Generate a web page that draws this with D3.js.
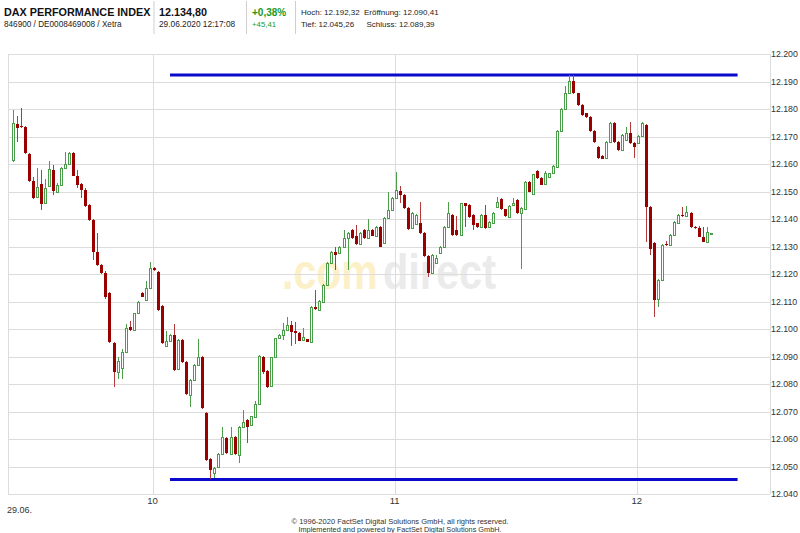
<!DOCTYPE html>
<html><head><meta charset="utf-8">
<script src="https://cdn.jsdelivr.net/npm/d3@7"></script>
<style>body{margin:0;background:#fff}svg{display:block}</style>
</head><body>
<svg id="c" width="800" height="533"></svg>
<script>
// ---- data ----
const startTime = "2020-06-29T09:25:00";
const opens = [12161.5,12174.4,12173.9,12173.6,12163.6,12153.8,12148.1,12152.6,12145.7,12152.1,
12157.8,12149.9,12152.5,12158.5,12159.9,12163.9,12155.8,12152.6,12150.5,12145.0,
12139.6,12128.1,12123.3,12120.3,12113.0,12094.8,12084.5,12086.0,12091.7,12100.8,
12099.6,12105.7,12113.0,12110.5,12115.0,12122.3,12120.9,12108.5,12094.0,12095.6,
12097.8,12085.5,12096.0,12088.1,12076.0,12081.5,12086.9,12090.0,12069.6,12052.9,
12047.5,12049.9,12054.5,12060.3,12054.5,12060.9,12054.2,12064.5,12066.9,12065.2,
12068.1,12072.7,12090.0,12084.8,12079.3,12089.7,12096.6,12097.8,12099.6,12101.5,
12099.4,12098.7,12096.0,12096.2,12095.4,12108.1,12106.9,12110.0,12116.0,12124.1,
12128.1,12127.5,12130.0,12133.0,12136.0,12134.0,12131.0,12136.0,12133.0,12136.0,
12134.0,12137.2,12131.2,12140.3,12143.3,12147.5,12150.3,12148.7,12143.9,12136.6,
12138.2,12138.4,12135.0,12126.5,12120.5,12124.0,12127.5,12130.0,12137.2,12141.5,
12136.0,12134.2,12145.7,12145.1,12141.5,12138.4,12137.2,12141.5,12137.2,12138.4,
12144.5,12147.2,12143.5,12140.8,12145.1,12146.9,12142.1,12143.5,12153.6,12149.0,
12157.5,12155.0,12152.7,12155.4,12156.6,12159.0,12172.1,12179.9,12185.7,12190.3,
12185.7,12181.5,12178.4,12177.0,12172.1,12166.1,12163.0,12162.1,12168.1,12175.0,
12168.1,12165.1,12168.7,12171.4,12167.7,12167.5,12170.2,12174.2,12144.5,12131.4,
12110.9,12118.0,12131.0,12130.5,12134.2,12138.4,12141.6,12141.0,12142.3,12137.2,
12136.6,12133.6,12131.8,12134.8];
const highs = [12179.6,12177.6,12180.5,12174.0,12163.9,12155.4,12158.7,12157.8,12154.5,12161.1,
12159.6,12153.0,12159.0,12164.3,12164.5,12164.5,12157.8,12153.0,12151.2,12145.5,
12140.0,12134.8,12123.6,12121.0,12113.5,12095.2,12090.0,12092.6,12102.0,12103.0,
12106.0,12110.2,12113.3,12117.5,12124.5,12122.6,12121.2,12108.8,12099.3,12098.1,
12101.7,12096.3,12096.3,12088.4,12082.0,12087.2,12096.3,12090.3,12069.9,12053.2,
12050.0,12054.8,12064.3,12060.6,12064.5,12061.2,12064.8,12070.5,12067.2,12068.5,
12074.0,12090.5,12090.3,12085.1,12090.0,12096.9,12098.1,12102.2,12104.5,12103.0,
12102.5,12099.0,12100.5,12096.5,12108.4,12114.2,12110.6,12116.3,12124.4,12128.4,
12130.0,12130.3,12136.0,12135.3,12136.3,12138.0,12135.3,12136.3,12140.0,12136.3,
12137.3,12137.5,12140.6,12150.0,12148.0,12157.2,12152.0,12149.0,12144.2,12142.4,
12141.8,12146.3,12135.3,12126.8,12127.2,12127.0,12130.3,12137.5,12146.3,12141.8,
12141.0,12146.0,12146.0,12145.4,12141.8,12138.7,12141.8,12145.0,12139.3,12142.4,
12148.0,12147.5,12143.8,12145.0,12147.5,12147.2,12144.2,12153.9,12153.9,12156.5,
12157.8,12155.4,12157.5,12156.9,12159.6,12172.4,12180.2,12188.5,12192.3,12192.3,
12186.0,12181.8,12178.7,12177.3,12172.4,12166.4,12163.3,12168.4,12175.3,12175.3,
12168.4,12170.8,12173.6,12175.4,12168.0,12170.5,12175.1,12174.5,12144.8,12131.7,
12118.3,12130.8,12132.0,12134.5,12139.3,12141.8,12144.5,12144.7,12142.6,12137.5,
12137.5,12137.0,12137.0,12135.0];
const lows = [12160.8,12168.1,12173.0,12163.5,12153.5,12147.2,12147.8,12143.3,12145.4,12151.8,
12148.7,12149.6,12152.2,12158.2,12159.6,12155.5,12151.2,12147.5,12144.5,12139.3,
12125.1,12123.0,12120.0,12110.9,12094.8,12079.0,12082.0,12082.0,12091.5,12099.3,
12099.3,12105.4,12111.5,12110.2,12114.7,12121.2,12106.6,12094.5,12093.7,12095.3,
12084.8,12085.2,12087.8,12076.0,12071.8,12081.2,12086.6,12070.9,12052.1,12045.3,
12046.0,12049.6,12054.2,12054.5,12054.2,12054.2,12051.2,12064.2,12058.7,12064.9,
12067.8,12072.4,12083.5,12078.7,12079.0,12089.4,12096.3,12096.0,12099.3,12094.0,
12094.5,12095.5,12095.7,12095.1,12095.1,12106.9,12106.6,12109.7,12115.7,12123.8,
12121.5,12127.2,12129.7,12121.5,12132.7,12130.7,12130.7,12132.7,12132.7,12133.7,
12133.7,12129.7,12130.9,12140.0,12143.0,12147.2,12146.0,12143.6,12136.0,12136.3,
12137.9,12134.7,12126.2,12119.0,12120.2,12123.7,12127.2,12129.7,12136.9,12133.9,
12133.9,12133.9,12137.0,12140.5,12136.0,12136.7,12136.9,12136.3,12136.9,12138.1,
12144.2,12143.2,12140.7,12140.5,12144.8,12141.8,12122.0,12143.2,12149.7,12148.7,
12154.5,12152.2,12152.4,12155.1,12156.3,12158.7,12171.8,12179.6,12185.4,12185.4,
12181.2,12177.5,12176.7,12171.8,12167.8,12161.8,12161.7,12161.8,12167.8,12167.8,
12164.8,12164.8,12168.4,12167.4,12162.1,12167.2,12169.9,12131.8,12127.0,12104.5,
12108.0,12117.7,12130.2,12130.2,12133.9,12138.1,12140.7,12140.7,12136.9,12136.5,
12133.3,12131.5,12131.5,12134.6];
const closes = [12174.8,12173.0,12173.3,12163.9,12153.8,12147.5,12151.7,12145.4,12151.2,12158.2,
12150.2,12152.5,12158.7,12159.9,12163.9,12155.8,12152.4,12150.5,12144.8,12139.6,
12128.1,12123.3,12120.3,12111.8,12095.2,12084.5,12088.5,12091.7,12100.3,12099.6,
12105.7,12109.9,12111.8,12115.0,12122.1,12121.5,12106.9,12094.8,12095.6,12097.8,
12085.1,12096.0,12088.1,12076.4,12081.5,12086.9,12090.0,12071.2,12052.4,12048.7,
12049.5,12054.5,12060.6,12054.8,12060.9,12054.5,12064.5,12066.3,12064.5,12068.2,
12072.7,12090.2,12084.5,12079.0,12089.7,12096.6,12097.8,12099.6,12101.5,12099.0,
12098.4,12095.8,12097.0,12095.4,12108.1,12107.2,12110.3,12116.0,12124.1,12128.1,
12127.0,12130.0,12133.0,12135.0,12133.0,12131.0,12135.0,12133.0,12136.0,12134.0,
12137.0,12130.0,12140.3,12143.3,12147.7,12150.5,12148.7,12143.9,12136.3,12142.1,
12141.5,12135.0,12126.5,12120.3,12126.9,12126.0,12130.0,12137.2,12142.1,12134.2,
12134.2,12145.7,12144.6,12140.8,12137.8,12137.0,12141.5,12136.6,12139.0,12142.1,
12146.3,12143.5,12141.0,12144.7,12146.0,12142.1,12143.9,12153.6,12150.0,12156.2,
12154.8,12152.5,12156.6,12156.6,12159.3,12172.1,12179.9,12185.7,12190.3,12185.7,
12181.5,12177.8,12177.0,12172.1,12168.1,12162.1,12162.0,12168.1,12175.0,12168.1,
12165.1,12170.5,12171.4,12167.7,12166.3,12170.2,12174.8,12144.5,12129.0,12110.5,
12118.0,12130.5,12130.5,12134.2,12139.0,12141.5,12141.0,12142.5,12137.2,12136.8,
12133.6,12131.8,12135.4,12134.8];
const yTicks = [12040,12050,12060,12070,12080,12090,12100,12110,12120,12130,12140,12150,12160,12170,12180,12190,12200];
const xTickTimes = ["2020-06-29T10:00:00","2020-06-29T11:00:00","2020-06-29T12:00:00"];
const xTickLabels = ["10","11","12"];
const levelValues = [12192.32, 12045.26];
const levelStart = "2020-06-29T10:04:20";
const levelEnd = "2020-06-29T12:25:00";

// ---- chart ----
const svg = d3.select("#c");
const L = 8, R = 770, T = 54, B = 494;
const x = d3.scaleTime()
  .domain([new Date("2020-06-29T09:24:11"), new Date("2020-06-29T12:33:02")])
  .range([L, R]);
const y = d3.scaleLinear().domain([12040, 12200]).range([B, T]);
const fmt = v => d3.format(",")(v).replace(/,/g, ".");
const FONT = "'Liberation Sans', Arial, sans-serif";

// watermark (two separate words, vertically stretched)
svg.append("text").attr("transform", "translate(282,289) scale(1,1.2)")
  .attr("font-family", FONT).attr("font-weight", "bold").attr("font-size", 41)
  .attr("fill", "#fcf0c8").text(".com");
svg.append("text").attr("transform", "translate(383,289) scale(1,1.2)")
  .attr("font-family", FONT).attr("font-weight", "bold").attr("font-size", 41.5)
  .attr("fill", "#ebebeb").text("direct");

// grid
const grid = svg.append("g").attr("stroke", "#dcdcdc").attr("stroke-width", 1).attr("shape-rendering", "crispEdges");
grid.selectAll("line.h").data(yTicks).join("line")
  .attr("x1", L).attr("x2", R).attr("y1", d => Math.round(y(d)) + 0.5).attr("y2", d => Math.round(y(d)) + 0.5);
grid.selectAll("line.v").data(xTickTimes).join("line")
  .attr("y1", T).attr("y2", B).attr("x1", d => Math.round(x(new Date(d))) + 0.5).attr("x2", d => Math.round(x(new Date(d))) + 0.5);
grid.append("line").attr("x1", L + 0.5).attr("x2", L + 0.5).attr("y1", T).attr("y2", B);
grid.append("line").attr("x1", R + 0.5).attr("x2", R + 0.5).attr("y1", T).attr("y2", B);

// y labels
svg.append("g").selectAll("text").data(yTicks).join("text")
  .attr("x", 771).attr("y", d => y(d) + 1).attr("dominant-baseline", "middle")
  .attr("font-family", FONT).attr("font-size", 8.8).attr("fill", "#333").text(fmt);

// x labels
svg.append("g").selectAll("text").data(xTickTimes).join("text")
  .attr("x", d => x(new Date(d))).attr("y", 504).attr("text-anchor", "middle")
  .attr("font-family", FONT).attr("font-size", 9.5).attr("fill", "#333")
  .text((d, i) => xTickLabels[i]);
svg.append("text").attr("x", 7).attr("y", 513).attr("font-family", FONT).attr("font-size", 9).attr("fill", "#333").text("29.06.");

// level lines
svg.append("g").selectAll("line").data(levelValues).join("line")
  .attr("x1", x(new Date(levelStart))).attr("x2", x(new Date(levelEnd)))
  .attr("y1", d => y(d)).attr("y2", d => y(d))
  .attr("stroke", "#0a0acc").attr("stroke-width", 3);

// candles
const t0 = new Date(startTime).getTime();
const candles = opens.map((o, i) => ({t: new Date(t0 + i * 60000 + 20000), o, h: highs[i], l: lows[i], c: closes[i]}));
const cg = svg.append("g").attr("shape-rendering", "crispEdges");
const cx = d => Math.round(x(d.t));
cg.selectAll("line").data(candles).join("line")
  .attr("x1", d => cx(d) + 0.5).attr("x2", d => cx(d) + 0.5)
  .attr("y1", d => y(d.h)).attr("y2", d => y(d.l))
  .attr("stroke", d => d.c >= d.o ? "#4a9e4a" : "#b23a3a");
cg.selectAll("rect").data(candles).join("rect")
  .attr("x", d => cx(d) - 1 + (d.c >= d.o ? 0.5 : 0))
  .attr("width", d => d.c >= d.o ? 2 : 3)
  .attr("y", d => y(Math.max(d.o, d.c)) + (d.c >= d.o ? 0.5 : 0))
  .attr("height", d => Math.max(1, Math.abs(y(d.o) - y(d.c))))
  .attr("fill", d => d.c >= d.o ? "#ffffff" : "#990000")
  .attr("stroke", d => d.c >= d.o ? "#4a9e4a" : "none")
  .attr("stroke-width", 1);

// header
const hd = svg.append("g").attr("font-family", FONT);
hd.append("text").attr("x", 4).attr("y", 16).attr("font-weight", "bold").attr("font-size", 10.8).attr("fill", "#111").text("DAX PERFORMANCE INDEX");
hd.append("text").attr("x", 4).attr("y", 27).attr("font-size", 8.2).attr("fill", "#222").text("846900 / DE0008469008 / Xetra");
hd.append("text").attr("x", 159).attr("y", 16).attr("font-weight", "bold").attr("font-size", 10.8).attr("fill", "#111").text("12.134,80");
hd.append("text").attr("x", 159).attr("y", 27).attr("font-size", 8.3).attr("fill", "#222").text("29.06.2020 12:17:08");
hd.append("text").attr("x", 252).attr("y", 16).attr("font-weight", "bold").attr("font-size", 10).attr("fill", "#1a9a1a").text("+0,38%");
hd.append("text").attr("x", 252).attr("y", 27).attr("font-size", 7.8).attr("fill", "#1a9a1a").text("+45,41");
hd.append("text").attr("x", 301).attr("y", 15).attr("font-size", 8).attr("fill", "#222").text("Hoch: 12.192,32");
hd.append("text").attr("x", 364).attr("y", 15).attr("font-size", 8).attr("fill", "#222").text("Eröffnung: 12.090,41");
hd.append("text").attr("x", 301).attr("y", 27).attr("font-size", 8).attr("fill", "#222").text("Tief: 12.045,26");
hd.append("text").attr("x", 366.5).attr("y", 27).attr("font-size", 8).attr("fill", "#222").text("Schluss: 12.089,39");
hd.selectAll("line").data([154, 246.5, 295.5]).join("line")
  .attr("x1", d => d).attr("x2", d => d).attr("y1", 1).attr("y2", 34)
  .attr("stroke", "#cfcfcf").attr("stroke-width", 1);

// footer
const ft = svg.append("g").attr("font-family", "'Liberation Sans Narrow', 'Arial Narrow', 'Liberation Sans', sans-serif").attr("font-size", 7.5).attr("fill", "#333").attr("text-anchor", "middle");
ft.append("text").attr("x", 400).attr("y", 524).attr("textLength", 217).attr("lengthAdjust", "spacingAndGlyphs").text("© 1996-2020 FactSet Digital Solutions GmbH, all rights reserved.");
ft.append("text").attr("x", 400).attr("y", 532).attr("textLength", 203).attr("lengthAdjust", "spacingAndGlyphs").text("Implemented and powered by FactSet Digital Solutions GmbH.");
</script>
</body></html>
